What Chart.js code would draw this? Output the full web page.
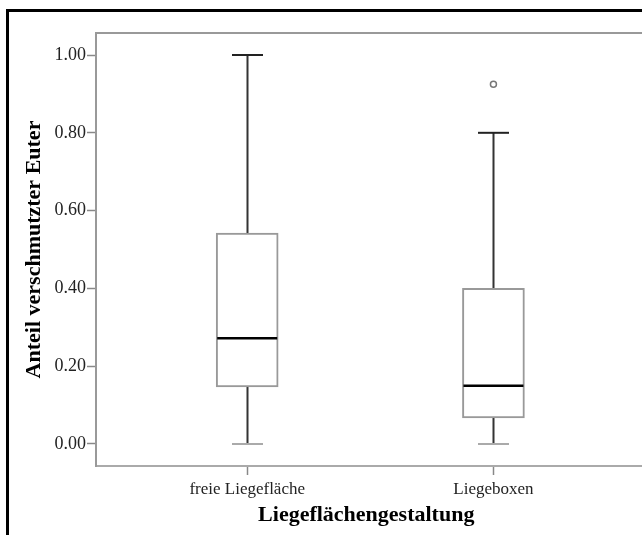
<!DOCTYPE html>
<html>
<head>
<meta charset="utf-8">
<script src="https://cdn.jsdelivr.net/npm/chart.js@4.4.1/dist/chart.umd.min.js"></script>
<style>
  html, body { margin: 0; padding: 0; background: #fff; overflow: hidden; }
  #wrap { position: relative; width: 642px; height: 535px; }
  #frame { position: absolute; left: 6px; top: 9px; width: 700px; height: 600px;
           border-left: 3px solid #000; border-top: 3px solid #000; }
  canvas { position: absolute; left: 0; top: 0; }
</style>
</head>
<body>
<div id="wrap">
  <div id="frame"></div>
  <canvas id="chart" width="642" height="535"></canvas>
</div>
<script>
// Boxplot data
const categories = ['freie Liegefläche', 'Liegeboxen'];
const minVals = [0, 0];
const q1Vals = [0.147, 0.067];
const medianVals = [0.272, 0.15];
const q3Vals = [0.542, 0.40];
const maxVals = [1.0, 0.80];
const outlierVals = [[], [0.925]];
const yTicks = [0, 0.2, 0.4, 0.6, 0.8, 1.0];

const serif = "'Liberation Serif', 'Times New Roman', serif";

// boxes as floating bars
const boxData = categories.map((c, i) => ({ x: i + 1, y: [q1Vals[i], q3Vals[i]] }));
const outlierData = [];
outlierVals.forEach((arr, i) => arr.forEach(v => outlierData.push({ x: i + 1, y: v })));

// whiskers, caps and medians drawn through the scales
const whiskerPlugin = {
  id: 'whiskers',
  beforeDatasetsDraw(chart) {
    const { ctx, scales: { x, y } } = chart;
    const capHalf = 15.5;
    ctx.save();
    categories.forEach((c, i) => {
      const cx = Math.round(x.getPixelForValue(i + 1)) + 0.5;
      ctx.strokeStyle = '#333';
      ctx.lineWidth = 2;
      ctx.beginPath();
      ctx.moveTo(cx, y.getPixelForValue(q3Vals[i]));
      ctx.lineTo(cx, y.getPixelForValue(maxVals[i]));
      ctx.moveTo(cx, y.getPixelForValue(q1Vals[i]));
      ctx.lineTo(cx, y.getPixelForValue(minVals[i]));
      ctx.stroke();
      // upper cap
      ctx.strokeStyle = '#222';
      ctx.beginPath();
      ctx.moveTo(cx - capHalf, y.getPixelForValue(maxVals[i]));
      ctx.lineTo(cx + capHalf, y.getPixelForValue(maxVals[i]));
      ctx.stroke();
      // lower cap
      ctx.strokeStyle = '#aaa';
      ctx.beginPath();
      ctx.moveTo(cx - capHalf, y.getPixelForValue(minVals[i]));
      ctx.lineTo(cx + capHalf, y.getPixelForValue(minVals[i]));
      ctx.stroke();
    });
    ctx.restore();
  },
  afterDatasetsDraw(chart) {
    const { ctx, scales: { x, y }, chartArea } = chart;
    const half = 31;
    ctx.save();
    ctx.strokeStyle = '#000';
    ctx.lineWidth = 2.5;
    categories.forEach((c, i) => {
      const cx = x.getPixelForValue(i + 1);
      const my = y.getPixelForValue(medianVals[i]);
      ctx.beginPath();
      ctx.moveTo(cx - half + 1, my);
      ctx.lineTo(cx + half - 1, my);
      ctx.stroke();
    });
    // plot frame runs out to the right edge of the picture
    ctx.strokeStyle = '#999';
    ctx.lineWidth = 2;
    ctx.beginPath();
    ctx.moveTo(chartArea.left, chartArea.top);
    ctx.lineTo(chart.width, chartArea.top);
    ctx.stroke();
    const by = Math.round(x.top);
    ctx.strokeStyle = '#aaa';
    ctx.beginPath();
    ctx.moveTo(chartArea.right - 2, by);
    ctx.lineTo(chart.width, by);
    ctx.stroke();
    ctx.restore();
  }
};

new Chart(document.getElementById('chart'), {
  type: 'bar',
  data: {
    datasets: [{
      type: 'bar',
      data: boxData,
      backgroundColor: '#fff',
      borderColor: '#999',
      borderWidth: 2,
      borderSkipped: false,
      barThickness: 62
    }, {
      type: 'scatter',
      data: outlierData,
      pointRadius: 3,
      pointBorderWidth: 1.5,
      pointBorderColor: '#777',
      pointBackgroundColor: '#fff'
    }]
  },
  options: {
    responsive: false,
    animation: false,
    layout: { padding: { top: 33, right: 0, left: 0, bottom: 0 } },
    plugins: { legend: { display: false }, tooltip: { enabled: false } },
    scales: {
      x: {
        type: 'linear',
        offset: false,
        min: 0.386,
        max: 2.581,
        afterBuildTicks: s => { s.ticks = [{ value: 1 }, { value: 2 }]; },
        afterFit: s => { s.height = 69; },
        ticks: {
          callback: v => categories[v - 1],
          font: { family: serif, size: 17 },
          color: '#222',
          padding: 4,
          maxRotation: 0
        },
        grid: { offset: false, drawOnChartArea: false, tickLength: 9, color: '#888', tickWidth: 1.5 },
        border: { color: '#aaa', width: 2 },
        title: {
          display: true,
          text: 'Liegeflächengestaltung',
          font: { family: serif, size: 22, weight: 'bold' },
          color: '#000',
          padding: { top: 0, bottom: 6 }
        }
      },
      y: {
        min: -0.0566,
        max: 1.0566,
        afterBuildTicks: s => { s.ticks = yTicks.map(v => ({ value: v })); },
        afterFit: s => { s.width = 96; },
        ticks: {
          callback: v => v.toFixed(2),
          font: { family: serif, size: 18 },
          color: '#222',
          padding: 1
        },
        grid: { drawOnChartArea: false, tickLength: 9, color: '#888', tickWidth: 1.5 },
        border: { color: '#999', width: 2 },
        title: {
          display: true,
          text: 'Anteil verschmutzter Euter',
          font: { family: serif, size: 22, weight: 'bold' },
          color: '#000',
          padding: { top: 21, bottom: 0 }
        }
      }
    }
  },
  plugins: [whiskerPlugin]
});
</script>
</body>
</html>
